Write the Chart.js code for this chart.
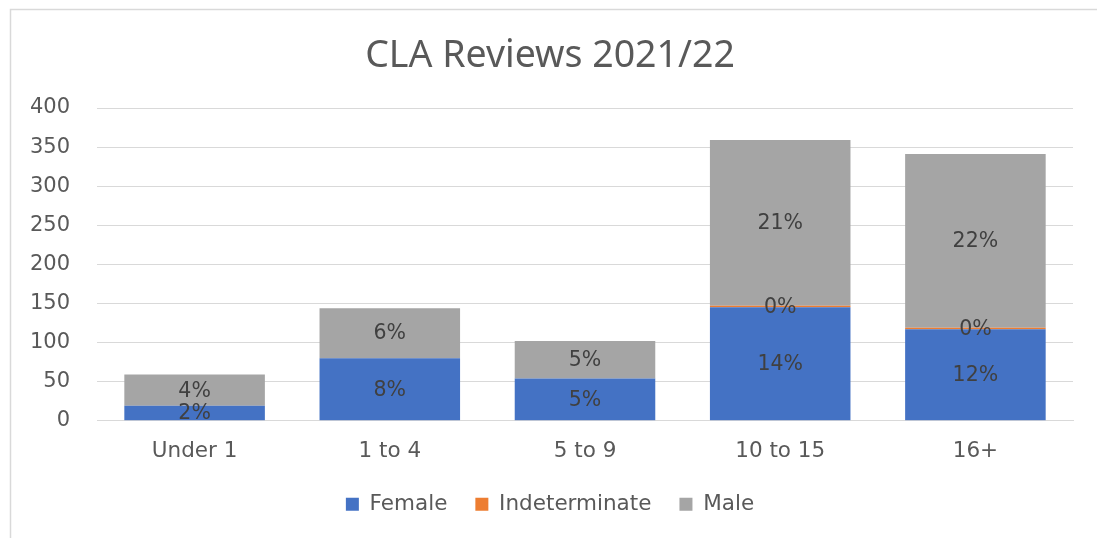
<!DOCTYPE html>
<html>
<head>
<meta charset="utf-8">
<title>CLA Reviews 2021/22</title>
<script src="https://cdn.jsdelivr.net/npm/chart.js@4"></script>
<style>
  html, body { margin: 0; padding: 0; background: #fff; }
  #wrap { width: 1097px; height: 538px; }
</style>
</head>
<body>
<div id="wrap"><canvas id="cla"></canvas></div>
<script>
// CLA reviews by age band and gender

var ageBands = ['Under 1', '1 to 4', '5 to 9', '10 to 15', '16+'];
var female = [19, 80, 54, 145, 117];
var indeterminate = [0, 0, 0, 2, 2];
var male = [40, 64, 48, 212, 222];
var yTicks = [0, 50, 100, 150, 200, 250, 300, 350, 400];

var total = 0;
[female, indeterminate, male].forEach(function (arr) {
    arr.forEach(function (v) { total += v; });
});

// draws the frame round the chart
var framePlugin = {
    id: 'frame',
    beforeDraw: function (chart) {
        var c = chart.ctx;
        c.save();
        c.fillStyle = '#ffffff';
        c.fillRect(0, 0, chart.width, chart.height);
        c.strokeStyle = '#d9d9d9';
        c.lineWidth = 1.5;
        c.strokeRect(10.5, 9.5, 1200, 600);
        c.restore();
    }
};

// percentage labels in the middle of each segment
var pctPlugin = {
    id: 'pctLabels',
    afterDatasetsDraw: function (chart) {
        var c = chart.ctx;
        c.save();
        c.font = '20.5px "DejaVu Sans"';
        c.fillStyle = '#404040';
        c.textAlign = 'center';
        c.textBaseline = 'middle';
        chart.data.datasets.forEach(function (ds, i) {
            var meta = chart.getDatasetMeta(i);
            meta.data.forEach(function (bar, j) {
                var v = ds.data[j];
                if (!v) return;
                var y = (bar.y + bar.base) / 2;
                c.fillText(Math.round(v / total * 100) + '%', bar.x, y + 1);
            });
        });
        c.restore();
    }
};

var ctx = document.getElementById('cla').getContext('2d');
var chart = new Chart(ctx, {
    type: 'bar',
    data: {
        labels: ageBands,
        datasets: [{
            label: 'Female',
            backgroundColor: '#4472c4',
            data: female
        }, {
            label: 'Indeterminate',
            backgroundColor: '#ed7d31',
            data: indeterminate
        }, {
            label: 'Male',
            backgroundColor: '#a5a5a5',
            data: male
        }]
    },
    options: {
        responsive: true,
        maintainAspectRatio: false,
        animation: false,
        barPercentage: 0.72,
        categoryPercentage: 1,
        layout: { padding: { left: 27, right: 24, top: 0, bottom: 13 } },
        plugins: {
            title: {
                display: true,
                text: 'CLA Reviews 2021/22',
                color: '#595959',
                font: { family: '"Noto Sans"', size: 37.5, weight: 'normal' },
                padding: { top: 34, bottom: 29 }
            },
            legend: {
                position: 'bottom',
                labels: {
                    boxWidth: 13,
                    boxHeight: 13,
                    padding: 28,
                    color: '#595959',
                    font: { family: '"DejaVu Sans"', size: 21.5 }
                }
            },
            tooltip: { enabled: false }
        },
        scales: {
            x: {
                stacked: true,
                afterFit: function (scale) { scale.height -= 9; },
                grid: { display: false },
                border: { color: '#d9d9d9', width: 1 },
                ticks: {
                    color: '#595959',
                    padding: 10,
                    font: { family: '"DejaVu Sans"', size: 21.5 }
                }
            },
            y: {
                stacked: true,
                min: 0,
                max: 400,
                afterFit: function (scale) { scale.width = 70; },
                afterBuildTicks: function (scale) {
                    scale.ticks = yTicks.map(function (v) { return { value: v }; });
                },
                grid: { color: '#d9d9d9', lineWidth: 1, drawTicks: false },
                border: { display: false },
                ticks: {
                    color: '#595959',
                    padding: 27,
                    font: { family: '"DejaVu Sans"', size: 21 }
                }
            }
        }
    },
    plugins: [framePlugin, pctPlugin]
});
</script>
</body>
</html>
